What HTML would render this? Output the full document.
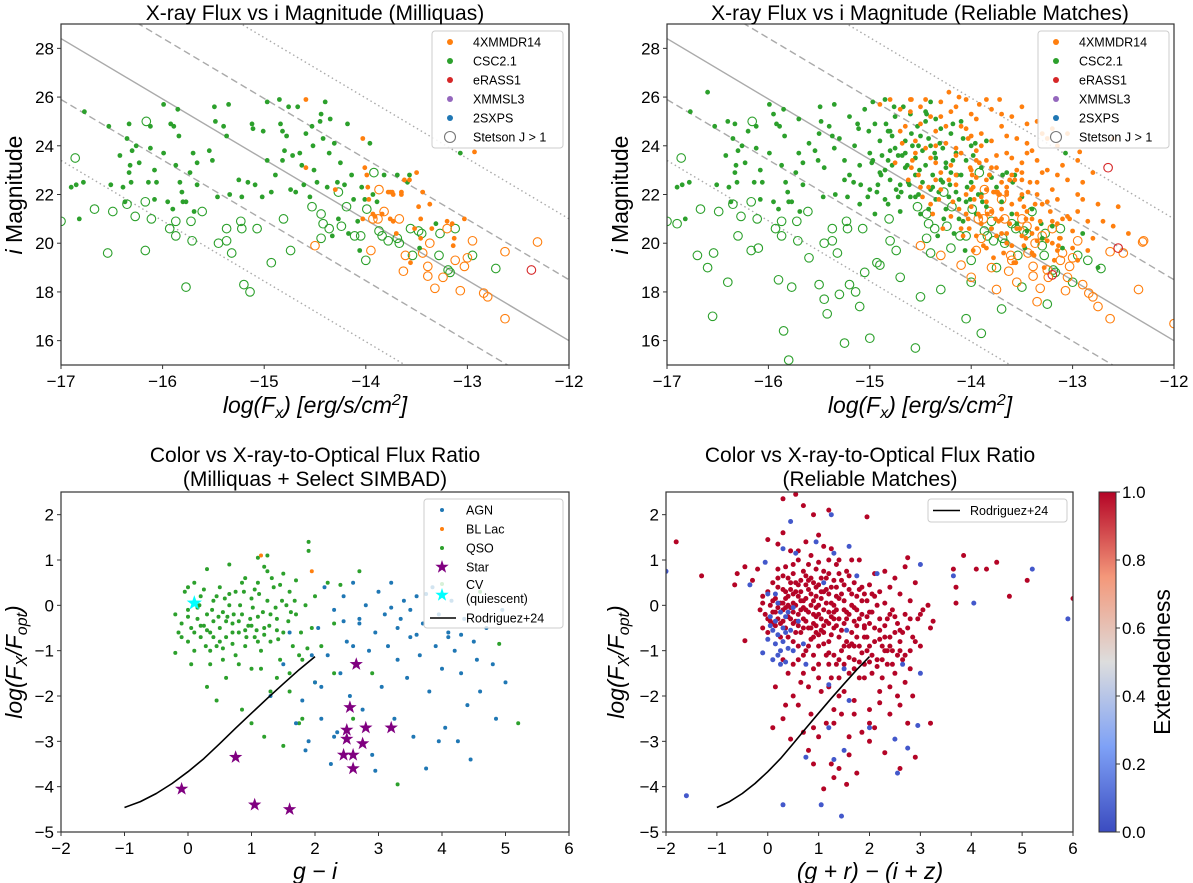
<!DOCTYPE html>
<html><head><meta charset="utf-8"><style>
html,body{margin:0;padding:0;background:#fff}
svg{display:block;font-family:"Liberation Sans","DejaVu Sans",sans-serif}
</style></head><body>
<svg id="fig" width="1193" height="883" viewBox="0 0 1193 883" xmlns="http://www.w3.org/2000/svg">
<defs>
<clipPath id="c1"><rect x="61" y="24" width="508" height="341"/></clipPath>
<clipPath id="c2"><rect x="667" y="24" width="507" height="341"/></clipPath>
<clipPath id="c3"><rect x="61" y="492" width="508" height="340"/></clipPath>
<clipPath id="c4"><rect x="666" y="492" width="407" height="340"/></clipPath>
<linearGradient id="cw" x1="0" y1="1" x2="0" y2="0">
<stop offset="0" stop-color="#3b4cc0"/><stop offset="0.25" stop-color="#7ea1f6"/><stop offset="0.5" stop-color="#dddddd"/><stop offset="0.75" stop-color="#f4987a"/><stop offset="1" stop-color="#b40426"/>
</linearGradient>
</defs>
<g id="root"></g>
</svg>
<script>
// ===== Panel 1 (top-left, Milliquas) data =====
const tlGreenFilled=[-16.9,22.3,-16.85,22.4,-16.78,22.5,-16.82,21.0,-16.77,25.4,-16.53,24.8,-16.51,22.4,-16.42,23.6,-16.39,22.3,-16.37,21.7,-16.35,24.3,-16.33,22.9,-16.32,23.2,-16.33,24.9,-16.31,22.5,-16.3,23.8,-16.26,24.0,-16.23,23.3,-16.14,22.5,-16.12,23.9,-16.12,24.8,-16.08,23.0,-16.06,22.5,-16.08,21.8,-15.99,23.7,-15.99,25.7,-15.95,21.7,-15.92,24.9,-15.89,24.8,-15.9,21.4,-15.87,23.2,-15.84,24.4,-15.85,25.5,-15.83,22.5,-15.81,22.1,-15.8,21.7,-15.77,21.7,-15.73,22.9,-15.7,23.7,-15.69,21.3,-15.66,23.3,-15.66,22.4,-15.54,23.8,-15.51,23.4,-15.49,25.6,-15.48,25.0,-15.46,21.9,-15.4,24.8,-15.37,24.4,-15.35,25.7,-15.34,22.0,-15.25,22.6,-15.22,21.9,-15.16,22.5,-15.12,24.9,-15.11,24.7,-15.09,22.4,-15.02,21.9,-15.01,24.6,-14.97,25.8,-14.97,23.4,-14.93,22.1,-14.89,22.8,-14.85,25.9,-14.84,24.9,-14.82,24.6,-14.82,23.4,-14.8,23.8,-14.78,24.4,-14.76,25.6,-14.74,22.2,-14.72,23.6,-14.69,22.1,-14.67,25.6,-14.65,23.7,-14.63,23.2,-14.61,22.4,-14.59,24.5,-14.55,21.9,-14.53,24.8,-14.52,24.0,-14.51,23.0,-14.48,22.5,-14.45,25.0,-14.44,25.3,-14.42,24.3,-14.4,25.8,-14.38,22.3,-14.36,23.7,-14.35,25.1,-14.33,20.3,-14.31,24.1,-14.28,22.5,-14.27,21.0,-14.25,23.3,-14.21,22.4,-14.18,24.9,-14.17,20.4,-14.14,22.8,-14.12,21.8,-14.08,20.9,-14.06,19.7,-14.04,22.3,-14.01,21.8,-13.96,24.1,-13.93,22.0,-13.89,21.7,-13.82,22.8,-13.69,22.8,-13.59,22.5,-13.57,22.8,-13.47,19.8,-13.31,20.8,-13.07,23.7];
const tlGreenOpen=[-17,20.9,-16.86,23.5,-16.67,21.4,-16.54,19.6,-16.49,21.3,-16.35,21.6,-16.27,21.1,-16.17,21.7,-16.17,19.7,-16.16,25.0,-16.11,21.0,-15.93,20.6,-15.87,20.9,-15.87,20.3,-15.77,18.2,-15.72,20.9,-15.71,20.1,-15.61,21.3,-15.45,20.0,-15.37,20.1,-15.37,20.6,-15.32,19.6,-15.23,20.9,-15.22,20.6,-15.2,18.3,-15.14,18.0,-15.07,20.6,-14.93,19.2,-14.81,21.0,-14.74,19.7,-14.53,21.5,-14.44,21.2,-14.44,20.2,-14.42,20.8,-14.36,20.6,-14.27,22.1,-14.24,20.7,-14.19,21.5,-14.11,20.3,-14.05,20.3,-14.0,19.3,-13.99,21.4,-13.92,22.9,-13.87,20.5,-13.84,20.3,-13.78,20.1,-13.69,20.2,-13.67,20.0,-13.56,20.6,-13.54,19.5,-13.48,20.5,-13.45,20.4,-13.28,19.5,-13.27,20.4,-13.19,18.9,-13.17,18.8,-13.12,20.6,-12.95,19.5,-12.72,18.96];
const tlOrangeFilled=[-14.59,25.9,-14.59,23.1,-14.3,22.2,-14.03,24.3,-14.01,23.1,-13.99,22.8,-13.98,22.3,-13.97,21.8,-14.03,21.0,-13.93,21.2,-13.91,21.1,-13.84,21.2,-13.78,22.1,-13.76,22.1,-13.74,22.1,-13.73,22.0,-13.76,21.0,-13.73,20.9,-13.7,20.4,-13.65,22.1,-13.65,22.0,-13.62,22.6,-13.57,22.6,-13.56,19.2,-13.52,20.6,-13.5,22.9,-13.48,21.5,-13.46,21.0,-13.46,20.2,-13.44,22.1,-13.37,21.6,-13.35,20.6,-13.2,20.9,-13.15,20.8,-13.14,19.9,-13.13,20.2,-13.03,21.0,-12.93,23.75];
const tlOrangeOpen=[-14.5,19.9,-13.95,19.7,-13.87,22.2,-13.93,21.0,-13.88,21.0,-13.82,21.3,-13.67,21.0,-13.61,19.5,-13.63,18.85,-13.44,19.6,-13.37,20.0,-13.39,19.05,-13.39,18.65,-13.32,18.15,-13.24,18.6,-13.2,20.6,-13.12,19.3,-13.07,18.05,-13.03,19.05,-13.0,19.4,-12.95,20.1,-12.84,17.95,-12.8,17.8,-12.63,19.65,-12.63,16.9,-12.31,20.05];
const tlRedOpen=[-12.37,18.9];
// ===== Panel 2 (top-right, reliable) extra data =====
const trGreenFilled=[-16.6,26.2,-16.4,25.0,-16.2,24.6,-15.95,25.3,-15.7,25.1,-15.6,24.1,-15.5,24.5,-15.45,23.1,-15.35,23.9,-15.3,24.3,-15.25,23.4,-15.2,25.2,-15.2,22.8,-15.15,24.0,-15.1,23.2,-15.1,21.6,-15.05,25.5,-15.0,23.7,-15.0,22.2,-14.95,24.9,-14.95,21.2,-14.9,24.2,-14.9,22.9,-14.85,23.0,-14.85,21.8,-14.8,24.6,-14.8,22.6,-14.75,25.2,-14.75,23.9,-14.7,22.4,-14.7,21.3,-14.65,24.2,-14.65,23.1,-14.6,25.3,-14.6,21.9,-14.55,23.5,-14.55,22.8,-14.5,24.4,-14.5,21.2,-14.45,23.2,-14.45,25.4,-14.4,22.2,-14.4,24.0,-14.35,23.5,-14.35,21.8,-14.3,22.6,-14.3,24.7,-14.25,23.1,-14.25,21.4,-14.2,24.5,-14.2,22.9,-14.15,23.7,-14.15,22.1,-14.1,25.0,-14.1,22.8,-14.05,23.4,-14.05,21.7,-14.0,24.0,-14.0,22.5,-13.95,21.2,-13.9,23.1,-13.9,22.0,-13.85,24.2,-13.85,21.5,-13.8,22.7,-13.8,20.6,-13.75,22.3,-13.7,21.7,-13.65,22.9,-13.6,21.2,-13.55,20.8,-13.5,21.9,-13.45,20.5,-13.4,21.4,-13.3,20.2,-13.2,20.7,-13.1,19.8,-12.9,20.4,-12.75,19.0,-14.98,23.3,-14.88,23.6,-14.78,23.2,-14.68,23.6,-14.58,24.0,-14.48,23.8,-14.38,22.8,-14.28,23.9,-14.18,23.4,-14.08,24.3,-13.98,23.6,-14.92,22.4,-14.82,21.6,-14.72,21.9,-14.62,22.5,-14.52,22.0,-14.42,21.4,-14.32,22.1,-14.22,21.9,-14.12,21.0];
const trOrangeFilled=[-14.8,25.9,-14.7,25.5,-14.65,24.8,-14.6,25.9,-14.55,24.2,-14.5,25.6,-14.45,23.9,-14.4,25.2,-14.4,23.5,-14.35,24.6,-14.3,25.8,-14.3,22.9,-14.25,24.1,-14.2,25.4,-14.2,23.2,-14.15,22.4,-14.1,24.8,-14.1,23.7,-14.05,25.9,-14.05,22.0,-14.0,24.4,-14.0,23.0,-14.0,21.5,-13.95,25.1,-13.95,22.7,-13.9,24.0,-13.9,21.9,-13.9,20.8,-13.85,23.4,-13.85,22.2,-13.8,25.5,-13.8,24.2,-13.8,21.3,-13.75,23.1,-13.75,20.3,-13.7,24.8,-13.7,22.5,-13.7,21.0,-13.65,23.7,-13.65,20.0,-13.6,25.2,-13.6,22.8,-13.6,21.6,-13.55,24.3,-13.55,20.6,-13.5,23.3,-13.5,22.0,-13.45,24.9,-13.45,21.3,-13.4,23.8,-13.4,20.4,-13.35,22.5,-13.3,24.5,-13.3,21.6,-13.25,23.0,-13.25,20.1,-13.2,22.2,-13.15,24.0,-13.1,21.0,-13.05,22.6,-13.0,20.5,-12.95,23.4,-12.9,21.8,-12.85,19.7,-12.8,22.9,-12.7,20.9,-12.6,24.3,-12.55,21.5,-12.45,20.4,-14.75,23.3,-14.62,22.6,-14.48,21.9,-14.38,21.2,-14.28,20.6,-14.18,21.7,-14.08,20.3,-13.98,19.7,-13.88,19.9,-13.78,19.4,-13.68,19.6,-13.58,19.2,-13.48,19.9,-13.38,19.5,-13.28,19.0,-13.18,19.3,-14.22,26.2,-14.12,26.0,-13.92,25.7,-13.72,25.9,-14.58,23.4,-14.52,22.8,-14.42,22.3,-14.32,21.8,-14.22,22.6,-14.12,21.4,-14.02,20.6,-13.92,23.3,-13.82,22.8,-13.72,22.0,-13.62,20.8,-13.52,21.8,-13.42,22.5,-13.32,20.9,-13.22,21.3,-13.12,20.2,-14.68,24.1,-14.35,24.0,-14.15,23.9,-13.95,23.8,-13.75,23.6,-13.55,23.0,-13.35,23.4,-13.15,22.8,-12.95,21.3,-12.75,21.6];
const trOrangeFilled2=[-14.9,25.7,-14.6,25.4,-14.45,25.9,-14.3,25.2,-14.15,25.6,-14.0,25.3,-13.85,25.9,-13.7,25.3,-13.5,25.6,-13.35,25.0,-13.2,24.7,-13.05,24.5,-14.7,24.6,-14.5,24.9,-14.25,24.8,-14.05,24.7,-13.9,24.5,-13.65,24.4,-13.45,24.1,-13.25,24.3,-14.55,23.7,-14.35,23.3,-14.15,23.6,-13.95,23.4,-13.8,23.1,-13.6,23.5,-13.45,23.7,-13.3,22.9,-13.1,23.2,-12.9,22.5,-14.5,22.3,-14.35,22.6,-14.15,22.8,-14.0,22.2,-13.85,22.6,-13.65,22.3,-13.5,22.6,-13.35,22.0,-13.15,21.8,-12.95,22.0,-14.4,21.6,-14.2,21.1,-14.05,21.2,-13.85,21.7,-13.7,21.4,-13.55,21.2,-13.4,21.0,-13.25,21.7,-13.05,21.1,-12.85,20.9,-14.1,20.6,-13.95,20.3,-13.8,20.6,-13.65,20.4,-13.5,20.3,-13.35,20.1,-13.2,20.0,-13.0,19.8,-12.8,20.2,-12.6,20.7,-13.85,19.8,-13.6,19.9,-13.4,19.6,-13.15,19.7,-12.95,19.3];
const trGreenOpen=[-16.9,20.8,-16.7,19.5,-16.6,19.0,-16.55,17.0,-16.4,18.4,-16.3,20.3,-16.1,19.8,-15.9,18.5,-15.85,16.4,-15.8,15.2,-15.6,19.4,-15.5,18.3,-15.45,17.7,-15.42,17.1,-15.3,17.9,-15.25,15.9,-15.1,17.4,-15.05,18.8,-15.0,16.1,-14.9,19.1,-14.8,20.1,-14.7,18.6,-14.55,15.7,-14.5,17.8,-14.4,19.6,-14.3,18.1,-14.2,19.8,-14.05,16.9,-14.0,18.4,-13.9,16.3,-13.75,19.0,-13.7,17.3,-13.6,20.8,-13.5,18.2,-13.3,19.9,-13.25,17.5,-13.0,18.4,-12.85,19.3,-13.4,21.3,-13.8,20.9];
const trOrangeOpen=[-14.3,19.5,-14.1,19.1,-14.0,18.6,-13.9,20.2,-13.8,19.0,-13.75,18.1,-13.6,19.3,-13.55,18.4,-13.45,20.7,-13.35,17.6,-13.3,20.3,-13.25,18.9,-13.1,19.6,-13.05,18.6,-12.9,18.3,-12.75,17.4,-12.5,19.6,-12.35,18.1,-12.0,16.7,-12.3,20.1,-13.7,21.8,-13.5,21.0];
const trRedOpen=[-12.65,23.1,-12.55,19.8,-13.2,18.7];
const topXTicks=[-17,-16,-15,-14,-13,-12];
const topYTicks=[16,18,20,22,24,26,28];
const topOffsets=[0,2.5,-2.5,5,-5];
// ===== Panel 3 (bottom-left) data =====
const qsoPts=[-0.2,-0.2,-0.15,-0.6,-0.1,-0.4,-0.05,0.3,0.0,-0.8,0.0,-0.1,0.05,-0.5,0.1,0.5,0.1,-1.0,0.15,-0.3,0.2,0.2,0.2,-0.7,0.25,-0.45,0.3,0.8,0.3,-0.2,0.35,-1.3,0.35,-0.6,0.4,0.1,0.4,-0.35,0.45,-0.9,0.5,0.4,0.5,-0.5,0.55,-0.15,0.6,-1.6,0.6,-0.7,0.65,0.9,0.65,0.0,0.7,-0.4,0.75,-1.1,0.75,0.3,0.8,-0.6,0.85,-0.2,0.9,0.6,0.9,-0.9,0.95,-0.45,1.0,0.15,1.0,-1.4,1.05,-0.7,1.1,0.5,1.1,-0.25,1.15,-1.0,1.2,0.85,1.2,-0.5,1.25,0.1,1.3,-1.9,1.3,-0.8,1.35,0.4,1.4,-0.3,1.45,-1.2,1.5,0.7,1.5,-0.6,1.55,0.0,1.6,-1.5,1.6,0.3,1.65,-0.9,1.7,0.55,1.7,-0.2,1.75,-2.6,1.8,-1.2,1.85,0.0,1.9,1.4,1.9,1.2,1.95,-0.5,2.0,0.2,2.0,-1.7,2.1,-0.9,2.2,0.5,2.3,-0.4,0.45,-2.1,0.85,-2.3,1.2,-2.9,1.5,-3.1,1.0,-2.6,0.3,-1.8,1.8,-2.5,2.6,-2.5,2.9,-1.5,3.3,-3.95,2.7,0.75,1.1,1.05,1.25,1.1,0.55,-0.95,0.62,-0.25,0.7,-0.85,0.82,0.0,0.92,-0.7,1.02,-0.05,1.08,-0.55,1.18,-0.15,1.28,-0.45,1.38,-0.05,1.42,-0.75,1.58,-0.35,1.68,0.1,1.78,-0.6,0.18,0.0,0.28,-0.9,0.38,-0.1,0.48,-0.25,0.58,0.15,0.72,-0.2,0.88,0.3,0.98,-0.3,1.12,0.25,1.32,0.6,1.48,0.1,1.62,-0.15,1.88,-0.95,2.3,-1.5,2.4,0.45,5.2,-2.6,4.9,-0.85,4.6,0.3,0.0,0.4,-0.2,-1.05];
const qsoPts2=[0.0,-0.25,0.1,-0.6,0.2,-0.45,0.3,-0.55,0.4,-0.7,0.5,-0.8,0.6,-0.35,0.7,-0.6,0.8,-0.35,0.9,-0.55,1.0,-0.45,1.1,-0.8,1.2,-0.65,1.3,-0.2,1.4,-0.55,0.15,-0.05,0.25,0.35,0.45,0.2,0.65,0.25,0.85,0.5,1.05,0.35,1.25,0.75,1.45,0.45,-0.1,-0.7,0.05,-1.3,0.35,-1.0,0.55,-1.2,0.8,-1.3,1.15,-1.4,1.4,-1.6,1.6,-1.9,1.75,-1.1];
const agnPts=[1.5,-1.3,1.6,-0.6,1.7,-2.6,1.8,-2.1,1.9,-3.0,2.0,-1.7,2.05,-0.5,2.1,-2.5,2.15,0.4,2.2,-1.1,2.25,-3.5,2.3,-0.1,2.35,-2.8,2.4,-1.5,2.45,0.2,2.5,-0.8,2.55,-2.0,2.6,0.5,2.65,-1.3,2.7,-0.4,2.75,-2.3,2.8,0.0,2.85,-1.0,2.9,-3.3,2.95,-0.6,3.0,0.3,3.05,-1.8,3.1,-0.2,3.15,-0.9,3.2,0.5,3.25,-2.5,3.3,-1.2,3.35,-0.3,3.4,0.1,3.45,-1.6,3.5,-0.7,3.55,-2.9,3.6,0.2,3.65,-1.1,3.7,-0.4,3.75,-3.6,3.8,-1.9,3.85,0.4,3.9,-0.9,3.95,-0.2,4.0,-1.4,4.05,-2.7,4.1,-0.6,4.15,0.1,4.2,-1.0,4.25,-3.0,4.3,-1.5,4.35,-0.3,4.4,-2.2,4.5,-0.8,4.55,-1.2,4.6,-1.9,4.7,-0.5,4.8,-1.3,4.85,-2.5,4.95,-0.1,5.0,-1.7,4.45,-3.4,2.3,-2.9,1.85,-3.2,3.95,-3.0,2.95,-3.65,1.3,-2.0,1.95,-1.1,2.1,-1.8,2.6,-0.9,2.7,-0.3,3.2,-0.05,3.5,-0.1,3.75,0.25,3.6,-0.65,2.45,-0.35,3.3,-0.5,4.1,-0.7,4.3,-0.65];
const blLacPts=[1.15,1.1,1.95,0.75];
const starPts=[-0.1,-4.05,0.75,-3.35,1.05,-4.4,1.6,-4.5,2.45,-3.3,2.5,-2.75,2.5,-2.95,2.55,-2.25,2.6,-3.6,2.6,-3.3,2.65,-1.3,2.75,-3.05,2.8,-2.7,3.2,-2.7];
const cvPts=[0.1,0.05];
const rodX=[-1,-0.75,-0.5,-0.25,0,0.25,0.5,0.75,1,1.25,1.5,1.75,2];
const rodY=[-4.46,-4.33,-4.15,-3.93,-3.67,-3.38,-3.05,-2.71,-2.38,-2.05,-1.73,-1.42,-1.13];
const botYTicks=[-5,-4,-3,-2,-1,0,1,2];
const botXTicks=[-2,-1,0,1,2,3,4,5,6];
// ===== Panel 4 (bottom-right) data =====
const extRed=[-1.8,1.4,-1.3,0.65,-0.6,0.7,-0.65,0.45,-0.45,0.85,-0.45,-0.78,-0.3,0.55,-0.2,0.8,-0.15,-0.1,-0.1,0.2,-0.1,-0.5,-0.05,-0.2,0.0,1.45,0.0,0.3,0.0,-0.6,0.05,0.0,0.05,-0.35,0.1,0.5,0.1,-0.15,0.1,-2.7,0.15,0.15,0.15,-0.45,0.15,-1.8,0.2,1.35,0.2,0.6,0.2,-0.3,0.25,0.05,0.25,-0.7,0.3,2.35,0.3,1.6,0.3,0.35,0.3,-0.1,0.3,-2.5,0.35,0.85,0.35,-0.5,0.35,-2.2,0.4,0.2,0.4,-0.25,0.4,-1.5,0.45,1.2,0.45,0.5,0.45,-0.05,0.45,-2.95,0.5,0.7,0.5,-0.4,0.5,-0.8,0.5,-2.0,0.55,2.45,0.55,0.3,0.55,0.0,0.6,1.0,0.6,-0.2,0.6,-1.2,0.65,0.55,0.65,-0.6,0.65,-1.7,0.7,2.2,0.7,0.1,0.7,-0.3,0.7,-2.8,0.75,1.4,0.75,0.65,0.75,-0.1,0.75,-1.0,0.8,0.35,0.8,-0.5,0.8,-3.2,0.85,1.1,0.85,0.0,0.85,-0.75,0.85,-2.4,0.9,2.0,0.9,0.5,0.9,-0.2,0.9,-1.4,0.95,0.8,0.95,0.2,0.95,-0.45,1.0,1.55,1.0,0.0,1.0,-0.9,1.0,-2.9,1.05,0.6,1.05,-0.3,1.05,-1.9,1.1,1.3,1.1,0.3,1.1,-0.6,1.1,-4.05,1.15,0.05,1.15,-1.1,1.15,-2.6,1.2,2.1,1.2,0.7,1.2,-0.15,1.2,-0.8,1.25,1.25,1.25,0.4,1.25,-1.6,1.25,-3.5,1.3,0.0,1.3,-0.5,1.3,-2.3,1.35,0.9,1.35,0.2,1.35,-1.3,1.4,1.0,1.4,-0.3,1.4,-0.7,1.4,-3.6,1.45,0.55,1.45,-1.0,1.45,-2.4,1.5,0.1,1.5,-0.4,1.5,-1.9,1.55,0.75,1.55,-0.8,1.55,-3.95,1.6,0.35,1.6,-0.2,1.6,-1.5,1.6,-2.9,1.65,1.0,1.65,0.0,1.65,-0.6,1.7,0.5,1.7,-1.2,1.7,-2.1,1.75,0.2,1.75,-0.45,1.75,-3.7,1.8,1.0,1.8,-0.9,1.8,-1.6,1.85,0.4,1.85,-0.2,1.85,-2.8,1.9,-0.7,1.9,-1.3,1.95,1.95,1.95,0.1,1.95,-1.0,2.0,0.45,2.0,-0.4,2.0,-2.3,2.05,-0.15,2.05,-1.5,2.1,0.7,2.1,-0.8,2.1,-2.7,2.15,0.0,2.15,-1.2,2.2,0.3,2.2,-0.55,2.2,-2.15,2.25,-0.9,2.25,-1.6,2.3,0.75,2.3,0.05,2.3,-3.25,2.35,-0.3,2.35,-1.3,2.4,0.4,2.4,-0.7,2.4,-2.4,2.45,-0.1,2.45,-1.0,2.5,0.6,2.5,-1.5,2.55,-0.4,2.55,-2.0,2.6,0.25,2.6,-0.8,2.6,-3.6,2.65,-1.2,2.7,0.85,2.7,-0.2,2.7,-1.7,2.75,1.05,2.75,-0.5,2.75,-2.6,2.8,0.1,2.8,-1.0,2.85,-0.7,2.85,-2.0,2.9,0.5,2.9,-3.35,2.95,-0.3,3.0,-0.9,3.05,-0.1,3.15,0.0,3.2,-0.5,3.25,-0.35,3.2,-2.6,3.65,0.8,3.7,0.4,3.7,0.05,3.85,1.1,4.1,0.8,4.3,0.8,4.5,0.95,4.75,0.2,5.1,0.55,6.0,0.15,1.0,-0.2,1.1,-0.1,1.2,-0.4,0.95,-0.6,0.8,-0.15,0.7,-0.5,0.6,0.2,0.5,-0.15,0.55,-0.6,0.65,0.3,0.75,-0.35,0.85,0.25,0.95,-0.05,1.05,0.15,1.15,0.35,1.25,-0.25,1.35,-0.1,1.45,0.25,1.55,-0.15,1.65,0.25,1.75,-0.1,1.85,0.1,1.95,-0.25,2.05,0.25,0.4,0.0,0.3,-0.35,0.2,-0.05,0.45,0.35,0.35,0.15,0.6,-0.45,0.9,-1.1,1.0,-1.3,1.3,-1.1,1.5,-1.3,1.7,-0.9,1.9,-0.5,2.2,-0.3,2.4,-0.2,2.6,-1.0,2.3,-1.0,2.0,-0.9,1.8,-0.3,1.6,-0.9,1.4,-1.6,1.2,-1.3,0.7,-1.5,0.5,-1.3,0.3,-1.2];
const extRed2=[0.1,0.1,0.2,0.4,0.3,0.05,0.4,0.6,0.5,0.25,0.6,0.45,0.7,0.75,0.8,0.55,0.9,0.1,1.0,0.45,1.1,0.75,1.2,0.25,1.3,0.55,1.4,0.15,1.5,0.45,1.6,0.65,1.7,-0.05,1.8,0.35,1.9,-0.45,2.0,-0.15,2.1,0.2,2.2,-0.75,2.3,-0.45,2.4,-0.9,2.5,-0.25,2.6,-0.55,0.15,-0.15,0.25,-0.4,0.35,0.3,0.45,-0.3,0.55,-0.35,0.65,-0.1,0.75,0.15,0.85,-0.5,0.95,-0.25,1.05,-0.55,1.15,-0.35,1.25,-0.65,1.35,-0.45,1.45,-0.55,1.55,-0.3,1.65,-0.85,1.75,-0.7,1.85,-1.05,1.95,-0.7,2.05,-1.1,2.15,-1.35,2.25,-1.2,2.35,-1.0,2.45,-1.3,2.55,-1.1,2.65,-0.6,0.6,-0.9,0.7,-1.1,0.8,-0.9,0.9,-0.7,1.0,-0.65,1.1,-0.85,1.2,-1.05,1.3,-0.3,1.4,-1.2,1.5,-0.9,1.6,-1.15,1.7,-1.4,1.8,-1.25,1.9,-1.6,2.0,-1.25,0.5,0.9,0.6,1.2,0.8,0.9,1.0,0.95,1.2,1.0,1.4,0.7,0.4,-0.7,0.55,0.5,0.65,0.1,0.75,0.45,0.85,0.6,0.95,0.4,1.05,0.3,1.15,0.6,1.25,0.05,1.35,0.4,0.3,0.65,0.2,0.8,0.1,-0.4,0.0,-0.3,-0.1,0.05,0.35,-0.05,0.5,0.05,0.7,-0.05,0.9,-0.4,1.1,-0.45,1.3,-0.15,1.5,-0.1,1.7,-0.35,1.9,0.25,2.1,-0.5,2.3,-0.7,2.5,-0.6,2.7,-1.1,2.8,-0.3,2.9,-0.8,3.0,-0.2,1.0,-1.6,1.2,-1.8,1.4,-2.0,0.8,-1.8,0.6,-2.2,2.2,-1.9,2.4,-1.8,2.6,-2.2,2.8,-1.4,0.9,-2.7,1.3,-2.6,1.7,-2.4,2.0,-3.0,1.6,-3.3,1.3,-3.8,0.9,-3.5,2.0,-2.6];
const extBlue=[-2.0,0.75,-1.6,-4.2,-0.35,0.45,-0.1,-1.05,-0.05,0.95,0.0,-0.75,0.0,0.25,0.05,-0.25,0.1,-0.55,0.1,-1.2,0.15,-0.85,0.15,-0.35,0.2,-1.1,0.2,-0.65,0.2,0.05,0.25,-0.15,0.25,-1.0,0.25,-1.3,0.3,-0.5,0.3,1.25,0.3,-4.4,0.3,-0.8,0.35,-1.25,0.35,-0.25,0.4,-0.95,0.45,-0.55,0.45,1.85,0.5,-0.05,0.5,-1.0,0.55,1.15,0.6,-0.35,0.7,-0.85,0.75,-1.3,0.75,-3.35,0.95,1.4,1.05,-4.4,1.1,0.5,1.2,-2.7,1.25,2.0,1.3,1.15,1.3,-3.4,1.45,-4.65,1.5,-3.2,1.5,-1.4,1.55,-0.55,1.6,1.3,1.2,-1.75,1.6,-2.1,1.75,0.65,2.0,-2.7,2.15,0.7,2.5,-2.95,2.65,-1.3,2.75,-3.15,2.55,-3.7,2.95,-2.65,3.0,0.9,3.0,-1.5,3.65,0.65,4.05,0.05,5.2,0.8,5.9,-0.3,0.15,0.25,0.05,-0.45,0.35,-0.6,0.4,-0.15];
const cbTicks=[0.0,0.2,0.4,0.6,0.8,1.0];

const NS='http://www.w3.org/2000/svg';
const root=document.getElementById('root');
function mk(tag,attrs,parent){const e=document.createElementNS(NS,tag);for(const k in attrs)e.setAttribute(k,attrs[k]);(parent||root).appendChild(e);return e;}
function txt(s,attrs,name,parent){const e=mk('text',attrs,parent);e.textContent=s;


return e;}
function lin(d0,d1,r0,r1){return v=>r0+(v-d0)*(r1-r0)/(d1-d0);}

const P=[
 {x0:61,x1:569,y0:24,y1:365,sx:lin(-17,-12,61,569),sy:lin(15,29,365,24),clip:'c1'},
 {x0:667,x1:1174,y0:24,y1:365,sx:lin(-17,-12,667,1174),sy:lin(15,29,365,24),clip:'c2'},
 {x0:61,x1:569,y0:492,y1:832,sx:lin(-2,6,61,569),sy:lin(-5,2.5,832,492),clip:'c3'},
 {x0:666,x1:1073,y0:492,y1:832,sx:lin(-2,6,666,1073),sy:lin(-5,2.5,832,492),clip:'c4'}
];

function scatter(p,arr,name,style,r){
 const g=mk('g',{'clip-path':'url(#'+p.clip+')'});
 
 
 for(let i=0;i<arr.length;i+=2){
  const c=mk('circle',Object.assign({cx:p.sx(arr[i]).toFixed(1),cy:p.sy(arr[i+1]).toFixed(1),r:r},style),g);
  
  
 }
}
function starPath(cx,cy,R){let d='';for(let k=0;k<10;k++){const a=-Math.PI/2+k*Math.PI/5;const rr=k%2?R*0.4:R;d+=(k?'L':'M')+(cx+rr*Math.cos(a)).toFixed(1)+' '+(cy+rr*Math.sin(a)).toFixed(1);}return d+'Z';}
function stars(p,arr,name,fill,R){
 for(let i=0;i<arr.length;i+=2){
  const s=mk('path',{d:starPath(p.sx(arr[i]),p.sy(arr[i+1]),R),fill:fill});
  
  
 }
}
function frame(p,xt,yt,xfmt,yfmt,pname){
 const b=mk('rect',{x:p.x0,y:p.y0,width:p.x1-p.x0,height:p.y1-p.y0,fill:'none',stroke:'#333','stroke-width':1.2});
 
 
 xt.forEach(v=>{const x=p.sx(v);mk('line',{x1:x,x2:x,y1:p.y1,y2:p.y1+4,stroke:'#333'});
  txt(xfmt(v),{x:x,y:p.y1+22,'font-size':17,'text-anchor':'middle'},pname+'-x-tick-label');});
 yt.forEach(v=>{const y=p.sy(v);mk('line',{x1:p.x0-4,x2:p.x0,y1:y,y2:y,stroke:'#333'});
  txt(yfmt(v),{x:p.x0-7,y:y+6,'font-size':17,'text-anchor':'end'},pname+'-y-tick-label');});
}
const m=v=>v<0?'\u2212'+Math.abs(v):String(v);

[P[0],P[1]].forEach((p,pi)=>{
 topOffsets.forEach((o,k)=>{
  const a=-17,b=-12,ya=28.4+o,yb=16+o;
  const l=mk('line',{x1:p.sx(a),y1:p.sy(ya),x2:p.sx(b),y2:p.sy(yb),stroke:'#aaa','stroke-width':1.4,'clip-path':'url(#'+p.clip+')'});
  if(k===1||k===2)l.setAttribute('stroke-dasharray','7,4');
  if(k>=3)l.setAttribute('stroke-dasharray','1.5,3');
  
  
 });
});
const G='#2ca02c',O='#ff7f0e',R='#d62728';
const open=c=>({fill:'none',stroke:c,'stroke-width':1.1});
scatter(P[0],tlGreenOpen,'csc-stetson',open(G),4.3);
scatter(P[0],tlOrangeOpen,'4xmm-stetson',open(O),4.3);
scatter(P[0],tlRedOpen,'erass-stetson',open(R),4.3);
scatter(P[0],tlGreenFilled,'csc',{fill:G},2.4);
scatter(P[0],tlOrangeFilled,'4xmm',{fill:O},2.4);
scatter(P[1],tlGreenOpen,'csc-stetson',open(G),4.3);
scatter(P[1],trGreenOpen,'csc-stetson',open(G),4.3);
scatter(P[1],tlOrangeOpen,'4xmm-stetson',open(O),4.3);
scatter(P[1],trOrangeOpen,'4xmm-stetson',open(O),4.3);
scatter(P[1],trRedOpen,'erass-stetson',open(R),4.3);
scatter(P[1],tlGreenFilled,'csc',{fill:G},2.4);
scatter(P[1],trGreenFilled,'csc',{fill:G},2.4);
scatter(P[1],tlOrangeFilled,'4xmm',{fill:O},2.4);
scatter(P[1],trOrangeFilled,'4xmm',{fill:O},2.4);
scatter(P[1],trOrangeFilled2,'4xmm',{fill:O},2.4);
scatter(P[2],qsoPts,'qso',{fill:G},2.0);
scatter(P[2],qsoPts2,'qso',{fill:G},2.0);
scatter(P[2],agnPts,'agn',{fill:'#1f77b4'},2.0);
scatter(P[2],blLacPts,'bl-lac',{fill:O},2.0);
stars(P[2],starPts,'star-marker','#800080',7);
stars(P[2],cvPts,'cv-marker','#00ffff',8);
scatter(P[3],extRed,'extended-source',{fill:'#b40426'},2.5);
scatter(P[3],extRed2,'extended-source',{fill:'#b40426'},2.5);
scatter(P[3],extBlue,'point-source',{fill:'#4358cb'},2.5);
[P[2],P[3]].forEach(p=>{
 const d=rodX.map((x,i)=>(i?'L':'M')+p.sx(x).toFixed(1)+' '+p.sy(rodY[i]).toFixed(1)).join('');
 const c=mk('path',{d:d,fill:'none',stroke:'#000','stroke-width':1.6,'stroke-linejoin':'round'});
 
 
});
frame(P[0],topXTicks,topYTicks,m,String,'p1');
frame(P[1],topXTicks,topYTicks,m,String,'p2');
frame(P[2],botXTicks,botYTicks,m,m,'p3');
frame(P[3],botXTicks,botYTicks,m,m,'p4');

txt('X-ray Flux vs i Magnitude (Milliquas)',{x:315,y:20,'font-size':21,'text-anchor':'middle'},'p1-title');
txt('X-ray Flux vs i Magnitude (Reliable Matches)',{x:920,y:20,'font-size':21,'text-anchor':'middle'},'p2-title');
txt('Color vs X-ray-to-Optical Flux Ratio',{x:315,y:462,'font-size':21,'text-anchor':'middle'},'p3-title');
txt('(Milliquas + Select SIMBAD)',{x:315,y:486,'font-size':21,'text-anchor':'middle'},'p3-subtitle');
txt('Color vs X-ray-to-Optical Flux Ratio',{x:870,y:462,'font-size':21,'text-anchor':'middle'},'p4-title');
txt('(Reliable Matches)',{x:870,y:486,'font-size':21,'text-anchor':'middle'},'p4-subtitle');
[[315,'p1'],[920,'p2']].forEach(([cx,n])=>{
 const t=txt('',{x:cx,y:413,'font-size':23,'text-anchor':'middle','font-style':'italic'},n+'-x-axis-title');
 t.innerHTML='log(F<tspan font-size="16" dy="5">x</tspan><tspan dy="-5">) [erg/s/cm</tspan><tspan font-size="16" dy="-8">2</tspan><tspan dy="8">]</tspan>';
});
[[22,'p1'],[628,'p2']].forEach(([x,n])=>{
 const t=txt('',{x:x,y:195,'font-size':23,'text-anchor':'middle',transform:'rotate(-90 '+x+' 195)'},n+'-y-axis-title');
 t.innerHTML='<tspan font-style="italic">i</tspan> Magnitude';
});
[[22,'p3'],[624,'p4']].forEach(([x,n])=>{
 const t=txt('',{x:x,y:662,'font-size':23,'text-anchor':'middle','font-style':'italic',transform:'rotate(-90 '+x+' 662)'},n+'-y-axis-title');
 t.innerHTML='log(F<tspan font-size="16" dy="5">X</tspan><tspan dy="-5">/F</tspan><tspan font-size="16" dy="5">opt</tspan><tspan dy="-5">)</tspan>';
});
txt('g \u2212 i',{x:315,y:879,'font-size':23,'text-anchor':'middle','font-style':'italic'},'p3-x-axis-title');
txt('(g + r) \u2212 (i + z)',{x:870,y:879,'font-size':23,'text-anchor':'middle','font-style':'italic'},'p4-x-axis-title');

const cb=mk('rect',{x:1099,y:492,width:17,height:340,fill:'url(#cw)',stroke:'#333','stroke-width':1});


const cbs=lin(0,1,832,492);
cbTicks.forEach(v=>{const y=cbs(v);mk('line',{x1:1116,x2:1120,y1:y,y2:y,stroke:'#333'});
 txt(v.toFixed(1),{x:1122,y:y+6,'font-size':17},'colorbar-tick-label');});
txt('Extendedness',{x:1170,y:662,'font-size':23,'text-anchor':'middle',transform:'rotate(-90 1170 662)'},'colorbar-title');

[[432,'p1'],[1038,'p2']].forEach(([lx,n])=>{
 const g=mk('g',{});
 
 
 mk('rect',{x:lx,y:31,width:131,height:117,rx:3,fill:'#fff','fill-opacity':0.85,stroke:'#ccc'},g);
 const items=[['4XMMDR14',O],['CSC2.1',G],['eRASS1',R],['XMMSL3','#9467bd'],['2SXPS','#1f77b4']];
 items.forEach((it,i)=>{const y=42+i*19;mk('circle',{cx:lx+18,cy:y,r:3,fill:it[1]},g);
  txt(it[0],{x:lx+41,y:y+4.5,'font-size':12.5},n+'-legend-entry',g);});
 mk('circle',{cx:lx+18,cy:137,r:5.5,fill:'none',stroke:'#777','stroke-width':1.1},g);
 txt('Stetson J > 1',{x:lx+41,y:141.5,'font-size':12.5},n+'-legend-entry',g);
});
(function(){
 const g=mk('g',{});
 
 
 mk('rect',{x:424,y:499,width:139,height:129,rx:3,fill:'#fff','fill-opacity':0.8,stroke:'#ccc'},g);
 [['AGN','#1f77b4',510],['BL Lac',O,529],['QSO',G,548]].forEach(it=>{mk('circle',{cx:442,cy:it[2],r:2,fill:it[1]},g);
  txt(it[0],{x:466,y:it[2]+4.5,'font-size':12.5},'p3-legend-entry',g);});
 mk('path',{d:starPath(442,567,7),fill:'#800080'},g);
 txt('Star',{x:466,y:571.5,'font-size':12.5},'p3-legend-entry',g);
 mk('circle',{cx:442,cy:584,r:2,fill:'#d8f0d8'},g);
 mk('path',{d:starPath(442,595,7),fill:'#00ffff'},g);
 txt('CV',{x:466,y:589,'font-size':12.5},'p3-legend-entry',g);
 txt('(quiescent)',{x:466,y:603,'font-size':12.5},'p3-legend-entry',g);
 mk('line',{x1:430,x2:456,y1:618,y2:618,stroke:'#000','stroke-width':1.6},g);
 txt('Rodriguez+24',{x:466,y:622.5,'font-size':12.5},'p3-legend-entry',g);
})();
(function(){
 const g=mk('g',{});
 
 
 mk('rect',{x:928,y:499,width:139,height:23,rx:3,fill:'#fff','fill-opacity':0.85,stroke:'#ccc'},g);
 mk('line',{x1:933,x2:960,y1:510.5,y2:510.5,stroke:'#000','stroke-width':1.6},g);
 txt('Rodriguez+24',{x:970,y:515,'font-size':12.5},'p4-legend-entry',g);
})();
</script>
</body></html>
